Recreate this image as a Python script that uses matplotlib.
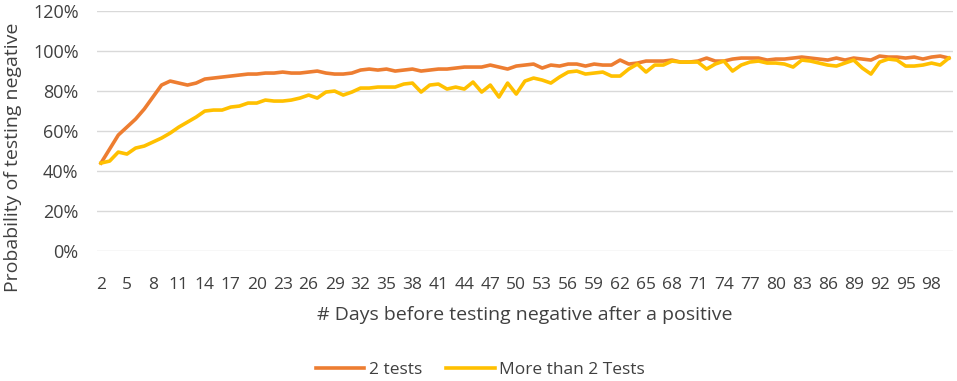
import matplotlib.pyplot as plt
from matplotlib.ticker import PercentFormatter

days = list(range(2, 101))

two_tests = [
    44, 51, 58, 62, 66, 71, 77, 83, 85, 84,
    83, 84, 86, 86.5, 87, 87.5, 88, 88.5, 88.5, 89,
    89, 89.5, 89, 89, 89.5, 90, 89, 88.5, 88.5, 89,
    90.5, 91, 90.5, 91, 90, 90.5, 91, 90, 90.5, 91,
    91, 91.5, 92, 92, 92, 93, 92, 91, 92.5, 93,
    93.5, 91.5, 93, 92.5, 93.5, 93.5, 92.5, 93.5, 93, 93,
    95.5, 93.5, 94, 95, 95, 95, 95.5, 94.5, 94.5, 95,
    96.5, 95, 95, 96, 96.5, 96.5, 96.5, 95.5, 96, 96,
    96.5, 97, 96.5, 96, 95.5, 96.5, 95.5, 96.5, 96, 95.5,
    97.5, 97, 97, 96.5, 97, 96, 97, 97.5, 96.5,
]

more_than_two = [
    44, 45, 49.5, 48.5, 51.5, 52.5, 54.5, 56.5, 59, 62,
    64.5, 67, 70, 70.5, 70.5, 72, 72.5, 74, 74, 75.5,
    75, 75, 75.5, 76.5, 78, 76.5, 79.5, 80, 78, 79.5,
    81.5, 81.5, 82, 82, 82, 83.5, 84, 79.5, 83, 83.5,
    81, 82, 81, 84.5, 79.5, 83, 77, 84, 78.5, 85,
    86.5, 85.5, 84, 87, 89.5, 90, 88.5, 89, 89.5, 87.5,
    87.5, 91, 93.5, 89.5, 93, 93, 95, 94.5, 94.5, 94.5,
    91, 93.5, 95, 90, 93, 94.5, 95, 94, 94, 93.5,
    92, 95.5, 95, 94, 93, 92.5, 94, 95.5, 91.5, 88.5,
    94.5, 96, 95.5, 92.5, 92.5, 93, 94, 93, 96.5,
]

tick_days = list(range(2, 99, 3))

plt.rcParams['font.family'] = ['Open Sans', 'DejaVu Sans']
txt = '#404040'

fig = plt.figure(figsize=(9.57, 3.81), dpi=100)
ax = fig.add_axes([0.101, 0.341, 0.895, 0.63])

ax.plot(days, two_tests, color='#ED7D31', lw=2.6, label='2 tests', solid_joinstyle='round')
ax.plot(days, more_than_two, color='#FFC000', lw=2.6, label='More than 2 Tests', solid_joinstyle='round')

ax.set_xlim(1.5, 100.5)
ax.set_ylim(0, 120)
ax.set_yticks(range(0, 121, 20))
ax.yaxis.set_major_formatter(PercentFormatter(decimals=0))
ax.set_xticks(tick_days)
ax.grid(axis='y', color='#D9D9D9', lw=1)
ax.set_axisbelow(True)
for s in ax.spines.values():
    s.set_visible(False)
ax.tick_params(length=0, colors=txt)
ax.tick_params(axis='y', labelsize=13, pad=13)
ax.tick_params(axis='x', labelsize=12.5, pad=19)

ax.set_xlabel('# Days before testing negative after a positive', fontsize=14, color=txt, labelpad=9)
ax.set_ylabel('Probability of testing negative', fontsize=14, color=txt)
ax.yaxis.set_label_coords(-0.087, 0.39)

fig.legend(loc='center', bbox_to_anchor=(0.502, 0.03), ncol=2, frameon=False,
           fontsize=12.5, labelcolor=txt, handlelength=2.8, handletextpad=0.25, columnspacing=1.4)

fig.savefig('out.png', dpi=100)
